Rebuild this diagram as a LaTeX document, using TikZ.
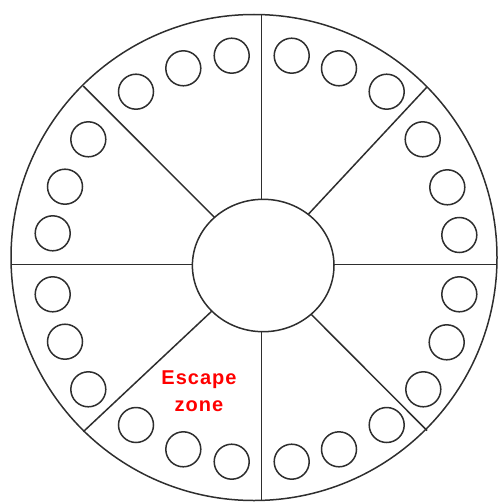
\documentclass[tikz,border=0pt]{standalone}
\usepackage{fontspec}
\setsansfont{Liberation Sans}
\newfontfamily\zonefont[LetterSpace=5]{Liberation Sans}
\usepackage{tikz}
\usetikzlibrary{positioning}
\definecolor{wallgray}{HTML}{2E2E2E}
\definecolor{zonered}{HTML}{FF0000}

\begin{document}
\begin{tikzpicture}[
    x=1pt, y=-1pt,
    wall/.style={draw=wallgray, line width=1.5pt},
    well/.style={draw=wallgray, line width=1.5pt, fill=white},
    zone/.style={text=zonered, font=\zonefont\bfseries\fontsize{20}{26.5}\selectfont, align=center}
]
    \useasboundingbox (0,0) rectangle (499,503);
    \coordinate (hub) at (261.5,264.5);
    \coordinate (n) at (261.5,14.5);
    \coordinate (s) at (261.5,500.5);
    \coordinate (w) at (11,264.5);
    \coordinate (e) at (497,264.5);
    \coordinate (nw) at (83.3,86);
    \coordinate (ne) at (426.7,87.3);
    \coordinate (sw) at (83.3,431.7);
    \coordinate (se) at (427,430.5);

    \draw[wall] (254,257.5) circle[radius=243];
    \foreach \p in {n,s,w,e,nw,ne,sw,se}
        \draw[wall] (hub) -- (\p);
    \draw[wall, fill=white] (263.2,265.5) ellipse[x radius=70.8, y radius=66.2];

    \foreach \x/\y in {231.7/55.7, 183.3/68.3, 136/91.7, 88.3/139.3, 65/186.7, 52.7/233.3,
                       291.7/55.7, 339/68.3, 386.7/91.7, 422.7/139.3, 447.3/187.3, 459.3/235,
                       52.7/294.3, 65/341.7, 88.3/389.3, 136/425, 183.3/449.3, 231.7/461.7,
                       459.3/294.3, 446.7/342.3, 423.3/389.3, 386.7/425, 339/449.3, 291.7/461.7}
        \draw[well] (\x,\y) circle[radius=17.5];

    \node[zone] (escape) at (199,391) {Escape\\zone};
\end{tikzpicture}
\end{document}
